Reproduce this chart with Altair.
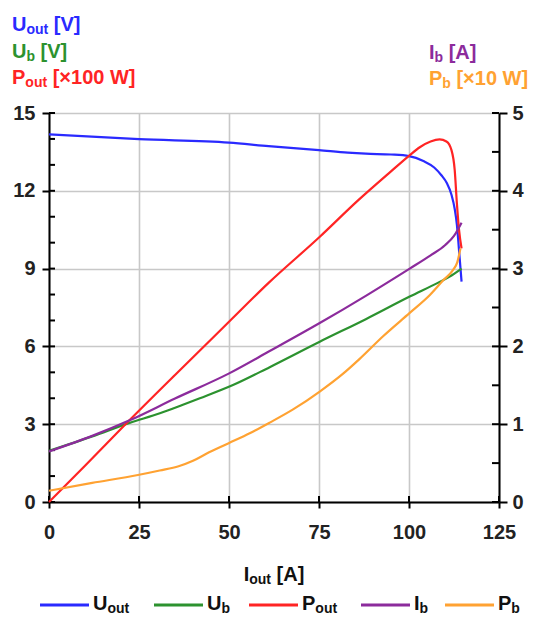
import altair as alt
import pandas as pd

# ---------------- data ----------------
uout_x = [0, 25, 50, 61, 75, 83, 88, 95, 100, 104, 107, 109, 110.5, 111.8, 112.7, 113.3, 113.9, 114.6]
uout_y = [14.18, 13.99, 13.86, 13.72, 13.57, 13.47, 13.43, 13.40, 13.34, 13.15, 12.9, 12.6, 12.3, 11.85, 11.3, 10.7, 9.7, 8.5]

ub_x = [0, 12, 22.4, 30.8, 37.2, 41.9, 51.1, 61.3, 75.2, 88, 100.2, 108, 111.3, 114.6]
ub_y = [1.97, 2.53, 3.05, 3.42, 3.75, 4.0, 4.51, 5.2, 6.18, 7.05, 7.92, 8.45, 8.69, 9.0]

pout_x = [0, 10, 22.4, 35, 50, 61, 75, 86, 95, 100, 103, 106, 108.5, 110.4, 111.8, 112.7, 113.3, 113.9, 114.6]
pout_y = [0, 1.4, 3.16, 4.9, 6.95, 8.45, 10.2, 11.65, 12.75, 13.35, 13.68, 13.9, 13.98, 13.9, 13.57, 12.8, 11.52, 10.49, 9.78]

ib_x = [0, 12, 22.4, 35, 49.9, 61.3, 75.2, 88, 100.2, 106, 110, 112.5, 114.6]
ib_y = [0.65, 0.85, 1.05, 1.33, 1.65, 1.94, 2.30, 2.65, 3.0, 3.17, 3.3, 3.42, 3.59]

pb_x = [0, 12, 24.7, 30.75, 36, 40, 43.7, 49.9, 55.75, 61.3, 67.8, 75.2, 81.7, 86.3, 92.8, 100.2, 105.8, 109.5, 112.2, 113.4, 114.3]
pb_y = [0.145, 0.245, 0.347, 0.405, 0.46, 0.53, 0.62, 0.755, 0.883, 1.02, 1.19, 1.42, 1.65, 1.84, 2.13, 2.43, 2.66, 2.85, 2.98, 3.08, 3.26]

x_ticks = [0, 25, 50, 75, 100, 125]
left_ticks = [0, 3, 6, 9, 12, 15]
right_ticks = [0, 1, 2, 3, 4, 5]
left_minor = list(range(0, 16))
right_minor = [i * 0.5 for i in range(0, 11)]

series_names = ["U_out", "U_b", "P_out", "I_b", "P_b"]
colors = ["#2a2aff", "#2c922f", "#ff2424", "#8c2b9c", "#ffa232"]

# ---------------- layout ----------------
W, H = 450, 389
PL, PT = 49, 113
FONT = "Liberation Sans"
BIG, SUB = 20, 14

x_scale = alt.Scale(domain=[0, 125], nice=False, zero=False)
x_axis = alt.Axis(values=x_ticks, title=None, tickSize=6, tickWidth=2, tickColor="black",
                  domainColor="black", domainWidth=2, labelFont=FONT, labelFontSize=BIG,
                  labelFontWeight="bold", labelColor="#222", labelPadding=14, labelFlush=False,
                  labelOverlap=False, grid=True, gridColor="#c8c8c8", gridWidth=1.6)
X = alt.X("I:Q", scale=x_scale, axis=x_axis)

yl_scale = alt.Scale(domain=[0, 15], nice=False, zero=False)
yl_axis = alt.Axis(orient="left", values=left_ticks, title=None, tickSize=7, tickWidth=2,
                   tickColor="black", domainColor="black", domainWidth=2, labelFont=FONT,
                   labelFontSize=BIG, labelFontWeight="bold", labelColor="#222", labelPadding=7,
                   labelFlush=False, labelOverlap=False, grid=True, gridColor="#c8c8c8", gridWidth=1.6)
YL = alt.Y("v:Q", scale=yl_scale, axis=yl_axis)

yr_scale = alt.Scale(domain=[0, 5], nice=False, zero=False)
yr_axis = alt.Axis(orient="right", values=right_ticks, title=None, tickSize=8, tickWidth=2,
                   tickColor="black", domainColor="black", domainWidth=2, labelFont=FONT,
                   labelFontSize=BIG, labelFontWeight="bold", labelColor="#222", labelPadding=5,
                   labelFlush=False, labelOverlap=False, grid=False)
YR = alt.Y("v:Q", scale=yr_scale, axis=yr_axis)


def line_layer(xs, ys, color, Y):
    df = pd.DataFrame({"I": xs, "v": ys, "o": list(range(len(xs)))})
    return alt.Chart(df).mark_line(color=color, strokeWidth=2.2, interpolate="monotone").encode(
        x=X, y=Y, order="o:Q")


l_uout = line_layer(uout_x, uout_y, colors[0], YL)
l_ub = line_layer(ub_x, ub_y, colors[1], YL)
l_pout = line_layer(pout_x, pout_y, colors[2], YL)
l_ib = line_layer(ib_x, ib_y, colors[3], YR)
l_pb = line_layer(pb_x, pb_y, colors[4], YR)

# inner (minor) ticks
left_minor_rules = alt.Chart(pd.DataFrame({"v": left_minor})).mark_rule(color="black", strokeWidth=2).encode(
    y=YL, x=alt.value(0), x2=alt.value(6))
right_minor_rules = alt.Chart(pd.DataFrame({"v": right_minor})).mark_rule(color="black", strokeWidth=2).encode(
    y=YR, x=alt.value(W - 7), x2=alt.value(W))
bottom_inner = alt.Chart(pd.DataFrame({"I": x_ticks})).mark_rule(color="black", strokeWidth=2).encode(
    x=X, y=alt.value(H - 6), y2=alt.value(H))

left_group = alt.layer(left_minor_rules, bottom_inner, l_uout, l_ub, l_pout)
right_group = alt.layer(right_minor_rules, l_ib, l_pb)

# ---------------- rich text (with subscripts) ----------------
ADV = {' ': 278, '[': 333, ']': 333, '×': 584, 'U': 722, 'V': 667, 'P': 667, 'I': 278,
       'A': 722, 'W': 944, 'o': 611, 'u': 611, 't': 333, 'b': 611}
for d in "0123456789":
    ADV[d] = 556


def width(s, size):
    return sum(ADV.get(c, 556) for c in s) * size / 1000.0


def rich(parts, x0, base, color, sub_dy=3):
    """parts: list of (text, is_sub)"""
    layers = []
    x = x0
    for txt, sub in parts:
        size = SUB if sub else BIG
        lead = len(txt) - len(txt.lstrip(" "))
        x += width(" " * lead, size)
        txt = txt.lstrip(" ")
        yb = base + (sub_dy if sub else 0)
        layers.append(
            alt.Chart(alt.Data(values=[{"k": 1}])).mark_text(
                text=txt, font=FONT, fontSize=size, fontWeight="bold", color=color,
                align="left", baseline="alphabetic").encode(
                x=alt.value(x - PL), y=alt.value(yb - PT)))
        x += width(txt, size)
    return layers


texts = []
texts += rich([("U", False), ("out", True), (" [V]", False)], 12, 31, colors[0])
texts += rich([("U", False), ("b", True), (" [V]", False)], 12, 58, colors[1])
texts += rich([("P", False), ("out", True), (" [×100 W]", False)], 12, 84, colors[2])
texts += rich([("I", False), ("b", True), (" [A]", False)], 429, 59, colors[3])
texts += rich([("P", False), ("b", True), (" [×10 W]", False)], 429, 85, colors[4])

# x-axis title centred under the plot
xt_parts = [("I", False), ("out", True), (" [A]", False)]
xt_w = sum(width(t, SUB if s else BIG) for t, s in xt_parts)
texts += rich(xt_parts, PL + W / 2 - xt_w / 2, 581, "#111")

# legend
legend_starts = [40, 154, 249, 361, 445]
legend_parts = [[("U", False), ("out", True)], [("U", False), ("b", True)],
                [("P", False), ("out", True)], [("I", False), ("b", True)],
                [("P", False), ("b", True)]]
LEG_LEN = 49
for xs, parts, col in zip(legend_starts, legend_parts, colors):
    texts.append(
        alt.Chart(alt.Data(values=[{"k": 1}])).mark_rule(color=col, strokeWidth=3).encode(
            x=alt.value(xs - PL), x2=alt.value(xs + LEG_LEN - PL), y=alt.value(605 - PT)))
    texts += rich(parts, xs + LEG_LEN + 4, 610, "#111")

chart = alt.layer(left_group, right_group, *texts).resolve_scale(y="independent").properties(
    width=W, height=H,
    padding={"left": PL, "top": PT, "right": 533 - PL - W, "bottom": 617 - PT - H},
    autosize=alt.AutoSizeParams(type="none"),
    background="white",
).configure_view(stroke=None)

chart.save("out.html", embed_options={"renderer": "svg", "actions": False})
